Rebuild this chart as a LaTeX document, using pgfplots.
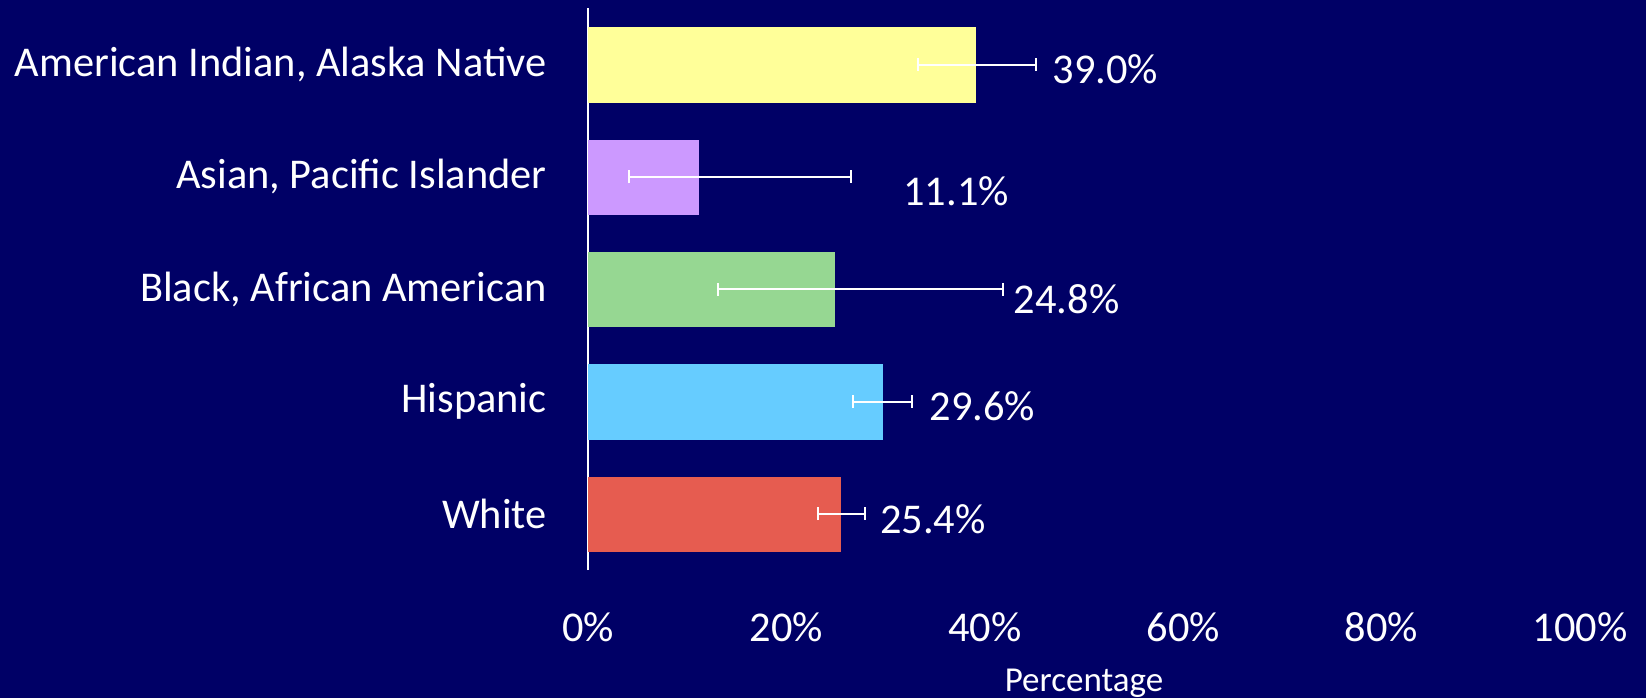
\documentclass[border=0pt]{standalone}
\usepackage{fontspec}
\setmainfont{Carlito}
\usepackage{pgfplots}
\pgfplotsset{compat=1.18}
\definecolor{bg}{HTML}{000066}
\definecolor{cyel}{HTML}{FFFF99}
\definecolor{cpur}{HTML}{CC99FF}
\definecolor{cgrn}{HTML}{96D792}
\definecolor{cblu}{HTML}{66CCFF}
\definecolor{cred}{HTML}{E65C50}
\begin{document}
\begin{tikzpicture}
\fill[bg] (0,0) rectangle (823pt,349pt);
\begin{axis}[
  at={(294pt,64pt)}, anchor=south west,
  scale only axis, width=496pt, height=280.8pt,
  xmin=0, xmax=100, ymin=-0.5, ymax=4.5,
  axis x line=none,
  axis y line*=left,
  y axis line style={white, line width=0.9pt, -},
  xtick={0,20,40,60,80,100},
  ytick={0,1,2,3,4},
  major tick length=0pt,
  font=\fontsize{21.2}{25}\selectfont,
  yticklabels={White,Hispanic,{Black, African American},{Asian, Pacific Islander},{American Indian, Alaska Native}},
  yticklabel style={white, anchor=east, inner sep=0pt, xshift=-20.5pt},
  xbar, bar width=0.663, bar shift=0pt,
  error bars/error bar style={draw=white, line width=1pt},
  error bars/error mark=|,
  error bars/error mark options={draw=white, line width=1pt, mark size=3.2pt},
  clip=false,
]
\addplot[draw=cyel, line width=0.1pt, fill=cyel, error bars/.cd, x dir=both, x explicit]
  coordinates {(39.0,4) += (6.2,0) -= (5.7,0)};
\addplot[draw=cpur, line width=0.1pt, fill=cpur, error bars/.cd, x dir=both, x explicit]
  coordinates {(11.1,3) += (15.4,0) -= (7.0,0)};
\addplot[draw=cgrn, line width=0.1pt, fill=cgrn, error bars/.cd, x dir=both, x explicit]
  coordinates {(24.8,2) += (17.0,0) -= (11.7,0)};
\addplot[draw=cblu, line width=0.1pt, fill=cblu, error bars/.cd, x dir=both, x explicit]
  coordinates {(29.6,1) += (3.1,0) -= (2.9,0)};
\addplot[draw=cred, line width=0.1pt, fill=cred, error bars/.cd, x dir=both, x explicit]
  coordinates {(25.4,0) += (2.5,0) -= (2.2,0)};
\node[white, anchor=west, inner sep=0pt] at (axis cs:46.8,3.96) {39.0\%};
\node[white, anchor=west, inner sep=0pt] at (axis cs:31.75,2.87) {11.1\%};
\node[white, anchor=west, inner sep=0pt] at (axis cs:42.9,1.91) {24.8\%};
\node[white, anchor=west, inner sep=0pt] at (axis cs:34.4,0.96) {29.6\%};
\node[white, anchor=west, inner sep=0pt] at (axis cs:29.4,-0.05) {25.4\%};
\foreach \v in {0,20,40,60,80,100} {
  \edef\tmp{\noexpand\node[white, anchor=center] at (axis cs:\v,-0.5) [yshift=-28.5pt] {\v\noexpand\%};}
  \tmp
}
\node[white, anchor=center, inner sep=0pt, font=\fontsize{17.5}{20}\selectfont] at (axis cs:50,-0.5) [yshift=-56.5pt] {Percentage};
\end{axis}
\pgfresetboundingbox
\useasboundingbox (0,0) rectangle (823pt,349pt);
\end{tikzpicture}
\end{document}
